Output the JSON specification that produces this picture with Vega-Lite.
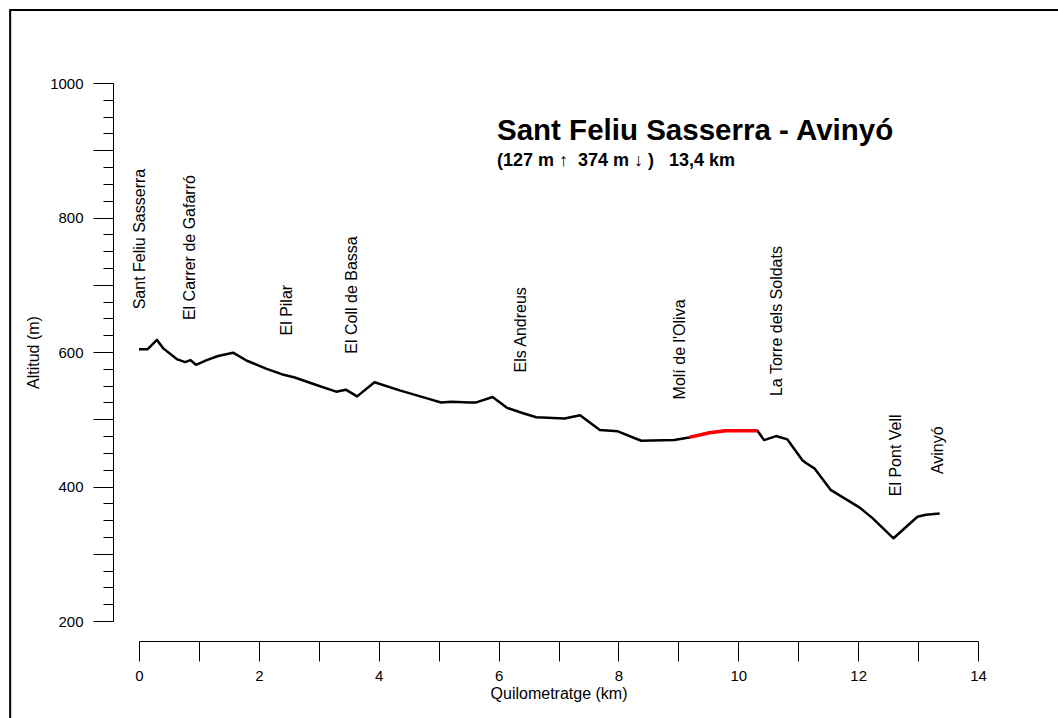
{
  "$schema": "https://vega.github.io/schema/vega-lite/v6.json",
  "width": 839,
  "height": 538,
  "autosize": {"type": "none"},
  "padding": {"left": 139, "top": 83, "right": 80, "bottom": 97},
  "background": "white",
  "config": {
    "view": {"stroke": null},
    "font": "Liberation Sans",
    "axis": {"labelFont": "Liberation Sans", "titleFont": "Liberation Sans", "grid": false}
  },
  "title": {
    "text": "Sant Feliu Sasserra - Avinyó",
    "subtitle": "(127 m\u00a0↑\u00a0\u00a0374 m\u00a0↓\u00a0)\u00a0\u00a0\u00a013,4 km",
    "anchor": "start",
    "frame": "group",
    "dx": 358,
    "dy": 162,
    "offset": 0,
    "font": "Liberation Sans",
    "fontSize": 29.5,
    "fontWeight": "bold",
    "color": "#000000",
    "subtitleFont": "Liberation Sans",
    "subtitleFontSize": 18,
    "subtitleFontWeight": "bold",
    "subtitleColor": "#000000",
    "subtitlePadding": 5
  },
  "resolve": {"axis": {"y": "independent"}},
  "datasets": {
    "perfil": [
      {"km": 0, "alt": 604, "tram": "negre"},
      {"km": 0.14, "alt": 604, "tram": "negre"},
      {"km": 0.3, "alt": 618, "tram": "negre"},
      {"km": 0.41, "alt": 605, "tram": "negre"},
      {"km": 0.64, "alt": 589, "tram": "negre"},
      {"km": 0.77, "alt": 585, "tram": "negre"},
      {"km": 0.86, "alt": 588, "tram": "negre"},
      {"km": 0.95, "alt": 581, "tram": "negre"},
      {"km": 1.13, "alt": 588, "tram": "negre"},
      {"km": 1.32, "alt": 594, "tram": "negre"},
      {"km": 1.57, "alt": 599, "tram": "negre"},
      {"km": 1.8, "alt": 587, "tram": "negre"},
      {"km": 2.13, "alt": 575, "tram": "negre"},
      {"km": 2.38, "alt": 567, "tram": "negre"},
      {"km": 2.6, "alt": 562, "tram": "negre"},
      {"km": 2.96, "alt": 551, "tram": "negre"},
      {"km": 3.29, "alt": 541, "tram": "negre"},
      {"km": 3.45, "alt": 544, "tram": "negre"},
      {"km": 3.64, "alt": 534, "tram": "negre"},
      {"km": 3.93, "alt": 555, "tram": "negre"},
      {"km": 4.35, "alt": 543, "tram": "negre"},
      {"km": 4.85, "alt": 530, "tram": "negre"},
      {"km": 5.04, "alt": 525, "tram": "negre"},
      {"km": 5.21, "alt": 526, "tram": "negre"},
      {"km": 5.52, "alt": 525, "tram": "negre"},
      {"km": 5.63, "alt": 525, "tram": "negre"},
      {"km": 5.9, "alt": 533, "tram": "negre"},
      {"km": 6.14, "alt": 517, "tram": "negre"},
      {"km": 6.41, "alt": 509, "tram": "negre"},
      {"km": 6.63, "alt": 503, "tram": "negre"},
      {"km": 7.1, "alt": 501, "tram": "negre"},
      {"km": 7.2, "alt": 503, "tram": "negre"},
      {"km": 7.36, "alt": 506, "tram": "negre"},
      {"km": 7.69, "alt": 484, "tram": "negre"},
      {"km": 7.99, "alt": 482, "tram": "negre"},
      {"km": 8.38, "alt": 468, "tram": "negre"},
      {"km": 8.93, "alt": 469, "tram": "negre"},
      {"km": 9.18, "alt": 473, "tram": "vermell"},
      {"km": 9.52, "alt": 480, "tram": "vermell"},
      {"km": 9.79, "alt": 483, "tram": "vermell"},
      {"km": 10.32, "alt": 483, "tram": "vermell"},
      {"km": 10.43, "alt": 469, "tram": "negre"},
      {"km": 10.63, "alt": 475, "tram": "negre"},
      {"km": 10.82, "alt": 470, "tram": "negre"},
      {"km": 11.07, "alt": 439, "tram": "negre"},
      {"km": 11.13, "alt": 435, "tram": "negre"},
      {"km": 11.27, "alt": 427, "tram": "negre"},
      {"km": 11.54, "alt": 395, "tram": "negre"},
      {"km": 12.02, "alt": 369, "tram": "negre"},
      {"km": 12.24, "alt": 353, "tram": "negre"},
      {"km": 12.59, "alt": 323, "tram": "negre"},
      {"km": 12.99, "alt": 355, "tram": "negre"},
      {"km": 13.13, "alt": 358, "tram": "negre"},
      {"km": 13.36, "alt": 360, "tram": "negre"}
    ],
    "llocs": [
      {"lloc": "Sant Feliu Sasserra", "km": 0.02, "alt": 604},
      {"lloc": "El Carrer de Gafarró", "km": 0.85, "alt": 588},
      {"lloc": "El Pilar", "km": 2.47, "alt": 565},
      {"lloc": "El Coll de Bassa", "km": 3.55, "alt": 538},
      {"lloc": "Els Andreus", "km": 6.38, "alt": 510},
      {"lloc": "Molí de l'Oliva", "km": 9.02, "alt": 470},
      {"lloc": "La Torre dels Soldats", "km": 10.65, "alt": 475},
      {"lloc": "El Pont Vell", "km": 12.63, "alt": 326},
      {"lloc": "Avinyó", "km": 13.33, "alt": 359}
    ]
  },
  "layer": [
    {
      "data": {"name": "perfil"},
      "mark": {"type": "line", "color": "#000000", "strokeWidth": 2.5, "strokeJoin": "round"},
      "encoding": {
        "x": {
          "field": "km",
          "type": "quantitative",
          "scale": {"domain": [0, 14], "nice": false, "zero": false},
          "axis": {
            "title": "Quilometratge (km)",
            "values": [0, 1, 2, 3, 4, 5, 6, 7, 8, 9, 10, 11, 12, 13, 14],
            "format": "d",
            "labelExpr": "datum.value % 2 === 0 ? datum.label : ''",
            "offset": 20,
            "tickSize": 20,
            "labelPadding": 7,
            "labelFlush": false,
            "labelOverlap": false,
            "labelFontSize": 15,
            "labelColor": "#000000",
            "titleFontSize": 16,
            "titleFontWeight": "normal",
            "titleColor": "#000000",
            "titlePadding": 2,
            "domainColor": "#000000",
            "tickColor": "#000000"
          }
        },
        "y": {
          "field": "alt",
          "type": "quantitative",
          "scale": {"domain": [200, 1000], "nice": false, "zero": false},
          "axis": {
            "title": "Altitud (m)",
            "orient": "left",
            "values": [200, 300, 400, 500, 600, 700, 800, 900, 1000],
            "format": "d",
            "labelExpr": "datum.value % 200 === 0 ? datum.label : ''",
            "offset": 26,
            "tickSize": 20,
            "labelPadding": 10,
            "labelFlush": false,
            "labelOverlap": false,
            "labelFontSize": 15,
            "labelColor": "#000000",
            "titleFontSize": 16,
            "titleFontWeight": "normal",
            "titleColor": "#000000",
            "titlePadding": 8,
            "domainColor": "#000000",
            "tickColor": "#000000"
          }
        }
      }
    },
    {
      "data": {"name": "perfil"},
      "transform": [{"filter": "datum.tram === 'vermell'"}],
      "mark": {"type": "line", "color": "#ff0000", "strokeWidth": 3.5, "strokeJoin": "round"},
      "encoding": {
        "x": {"field": "km", "type": "quantitative"},
        "y": {
          "field": "alt",
          "type": "quantitative",
          "axis": {
            "title": null,
            "orient": "left",
            "values": [200, 225, 250, 275, 300, 325, 350, 375, 400, 425, 450, 475, 500, 525, 550, 575, 600, 625, 650, 675, 700, 725, 750, 775, 800, 825, 850, 875, 900, 925, 950, 975, 1000],
            "offset": 26,
            "tickSize": 10,
            "labels": false,
            "domain": false,
            "tickColor": "#000000"
          }
        }
      }
    },
    {
      "data": {"name": "llocs"},
      "mark": {"type": "text", "angle": 270, "align": "left", "baseline": "middle", "dx": 40, "fontSize": 16, "font": "Liberation Sans", "color": "#000000"},
      "encoding": {
        "x": {"field": "km", "type": "quantitative"},
        "y": {"field": "alt", "type": "quantitative", "axis": null},
        "text": {"field": "lloc"}
      }
    },
    {
      "data": {"values": [{"marc": 1}]},
      "mark": {"type": "rect", "fill": null, "fillOpacity": 0, "stroke": "#000000", "strokeWidth": 2, "clip": false},
      "encoding": {
        "x": {"datum": -2.15, "type": "quantitative"},
        "x2": {"datum": 16},
        "y": {"datum": 1108.6, "type": "quantitative", "axis": null},
        "y2": {"datum": 0}
      }
    }
  ]
}
